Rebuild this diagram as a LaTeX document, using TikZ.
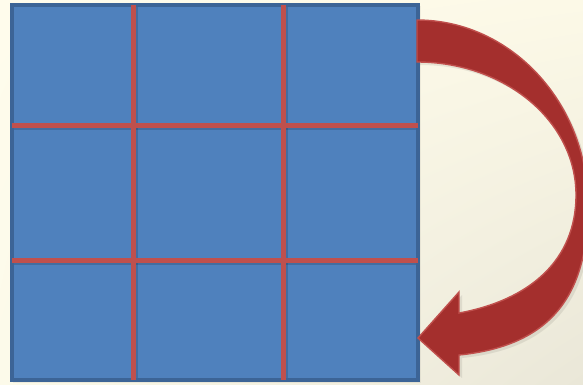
\documentclass[tikz,border=0pt]{standalone}
\usepackage{tikz}
\usetikzlibrary{shadings}
\definecolor{paneblue}{RGB}{79,129,189}
\definecolor{paneedge}{RGB}{60,100,150}
\definecolor{gridred}{RGB}{192,80,77}
\definecolor{arrowred}{RGB}{164,47,45}
\definecolor{bgA}{RGB}{255,252,236}
\definecolor{bgB}{RGB}{252,249,231}
\definecolor{bgC}{RGB}{252,250,234}
\definecolor{bgD}{RGB}{234,231,216}

\begin{document}
\begin{tikzpicture}[x=1pt, y=-1pt,
  panel/.style={fill=paneblue, draw=paneedge, line width=4},
  gridline/.style={draw=gridred, line width=5},
  gridshadow/.style={draw=black, opacity=0.15, line width=5},
  bigarrow/.style={fill=arrowred, draw=gridred, line width=1.4, line join=miter}]
\clip (0,0) rectangle (583,384);
\useasboundingbox (0,0) rectangle (583,384);
\shade[upper left=bgA, upper right=bgB, lower left=bgC, lower right=bgD] (0,0) rectangle (583,384);
\fill[black, opacity=0.05] (13,6) rectangle (421,383);
\draw[panel] (12,5) rectangle (418,380);
\foreach \x in {133,283} {
  \draw[gridshadow] (\x+2,7) -- (\x+2,378);
}
\foreach \y in {125,260} {
  \draw[gridshadow] (14,\y+2) -- (416,\y+2);
}
\foreach \x in {133,283} {
  \draw[gridline] (\x,5) -- (\x,380);
}
\foreach \y in {125,260} {
  \draw[gridline] (12,\y) -- (418,\y);
}
\fill[black, opacity=0.08] (420,23) .. controls (514,23) and (591,106) .. (591,208)
  .. controls (591,288) and (563,348) .. (462,358) -- (462,378) -- (421,341) -- (462,295) -- (462,316)
  .. controls (533,303) and (579,263) .. (579,198)
  .. controls (579,124) and (508,65) .. (420,65) -- cycle;
\draw[bigarrow] (417,20) .. controls (511,20) and (588,103) .. (588,205)
  .. controls (588,285) and (560,345) .. (459,355) -- (459,375) -- (418,338) -- (459,292) -- (459,313)
  .. controls (530,300) and (576,260) .. (576,195)
  .. controls (576,121) and (505,62) .. (417,62) -- cycle;
\end{tikzpicture}
\end{document}
